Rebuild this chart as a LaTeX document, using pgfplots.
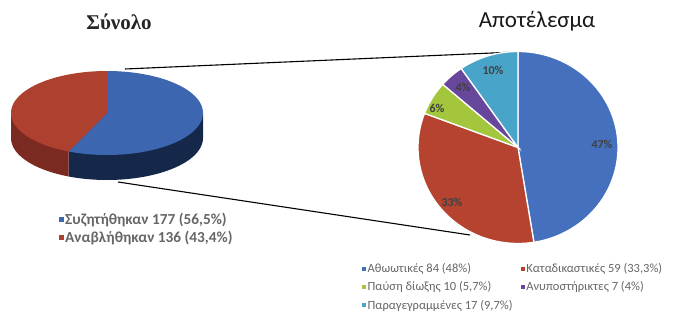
\documentclass[border=0pt]{standalone}
\usepackage{pgfplots}
\pgfplotsset{compat=1.18}
\usepackage{fontspec}
\setmainfont{Carlito}
\newfontfamily\titleserif{Liberation Serif}
\definecolor{cblue}{HTML}{3D66B0}
\definecolor{cbluer}{HTML}{4470BE}
\definecolor{cbluedark}{HTML}{16284A}
\definecolor{cred}{HTML}{AE402F}
\definecolor{cred2}{HTML}{B5432F}
\definecolor{creddark}{HTML}{7A2A20}
\definecolor{cgreen}{HTML}{A3C63C}
\definecolor{cpurple}{HTML}{66479B}
\definecolor{ccyan}{HTML}{48A4C8}
% data (counts)
\def\nA{177}\def\nB{136}
\def\vA{84}\def\vB{59}\def\vC{10}\def\vD{7}\def\vE{17}
\pgfmathsetmacro\LT{\nA+\nB}
\pgfmathsetmacro\Lcut{90-360*(\nA/\LT)}
\pgfmathsetmacro\Lcutb{\Lcut+360}
\pgfmathsetmacro\Lx{107+96*cos(\Lcut)}
\pgfmathsetmacro\Ly{206+42*sin(\Lcut)}
\pgfmathsetmacro\RT{\vA+\vB+\vC+\vD+\vE}
\pgfmathsetmacro\Ra{90-360*(\vA/\RT)}
\pgfmathsetmacro\Rb{\Ra-360*(\vB/\RT)}
\pgfmathsetmacro\Rc{\Rb-360*(\vC/\RT)}
\pgfmathsetmacro\Rd{\Rc-360*(\vD/\RT)}
\pgfmathsetmacro\Re{\Rd-360*(\vE/\RT)}
\pgfplotsset{base/.style={at={(0,0)}, anchor=south west, width=675pt, height=319pt,
  scale only axis, xmin=0, xmax=675, ymin=0, ymax=319, hide axis, clip=false},
  sq/.style={legend image code/.code={\fill[##1,draw=none] (0pt,-2.5pt) rectangle (5pt,2.5pt);}},
  sqs/.style={legend image code/.code={\fill[##1,draw=none] (0pt,-2pt) rectangle (4pt,2pt);}}}
\begin{document}
\begin{tikzpicture}
\useasboundingbox (0,0) rectangle (675pt,319pt);
% ---------- left 3D pie ----------
\begin{axis}[base, sq,
  title={\titleserif\bfseries\fontsize{21}{23}\selectfont Σύνολο},
  title style={at={(119/675,291/319)}, anchor=center, inner sep=0pt, text=black!85},
  legend style={at={(59/675,107/319)}, anchor=north west, draw=none, fill=none,
    font=\bfseries\fontsize{15.3}{17}\selectfont, text=black!60, row sep=3pt,
    inner sep=0pt, nodes={inner sep=1pt}},
  legend cell align=left]
\addplot[fill=cbluedark, draw=none, domain=\Lcut:0, samples=60, variable=\t, forget plot]
  ({107+96*cos(\t)},{181+42*sin(\t)}) -- (axis cs:203,206) -- (axis cs:107,206) -- (axis cs:\Lx,\Ly) -- cycle;
\addplot[fill=creddark, draw=none, domain=180:\Lcutb, samples=60, variable=\t, forget plot]
  ({107+96*cos(\t)},{181+42*sin(\t)}) -- (axis cs:\Lx,\Ly) -- (axis cs:107,206) -- (axis cs:11,206) -- cycle;
\addplot[fill=cblue, draw=none, domain=\Lcut:90, samples=80, variable=\t]
  ({107+96*cos(\t)},{206+42*sin(\t)}) -- (axis cs:107,206) -- cycle;
\addlegendentry{Συζητήθηκαν 177 (56,5\%)}
\addplot[fill=cred, draw=none, domain=90:\Lcutb, samples=80, variable=\t]
  ({107+96*cos(\t)},{206+42*sin(\t)}) -- (axis cs:107,206) -- cycle;
\addlegendentry{Αναβλήθηκαν 136 (43,4\%)}
% connector lines
\addplot[black, line width=1.1pt, forget plot] coordinates {(125,250) (515,267)};
\addplot[black, line width=1.1pt, forget plot] coordinates {(118,137) (470,84)};
\end{axis}
% ---------- right pie ----------
\begin{axis}[base, sqs,
  title={\fontsize{23}{25}\selectfont Αποτέλεσμα},
  title style={at={(537/675,292/319)}, anchor=center, inner sep=0pt, text=black!90},
  legend columns=2,
  legend style={at={(362/675,57/319)}, anchor=north west, draw=none, fill=none,
    font=\fontsize{12.5}{14.5}\selectfont, text=black!60, row sep=4.5pt,
    inner sep=0pt, nodes={inner sep=1.5pt},
    /tikz/column 2/.style={column sep=28pt}},
  legend cell align=left]
\addplot[fill=cbluer, draw=white, line width=1.3pt, domain=\Ra:90, samples=80, variable=\t]
  ({518+100*cos(\t)},{171.5+96*sin(\t)}) -- (axis cs:518,171.5) -- cycle;
\addlegendentry{Αθωωτικές 84 (48\%)}
\addplot[fill=cred2, draw=white, line width=1.3pt, domain=\Rb:\Ra, samples=60, variable=\t]
  ({518+100*cos(\t)},{171.5+96*sin(\t)}) -- (axis cs:518,171.5) -- cycle;
\addlegendentry{Καταδικαστικές 59 (33,3\%)}
\addplot[fill=cgreen, draw=white, line width=1.3pt, domain=\Rc:\Rb, samples=20, variable=\t]
  ({518+100*cos(\t)},{171.5+96*sin(\t)}) -- (axis cs:518,171.5) -- cycle;
\addlegendentry{Παύση δίωξης 10 (5,7\%)}
\addplot[fill=cpurple, draw=white, line width=1.3pt, domain=\Rd:\Rc, samples=20, variable=\t]
  ({518+100*cos(\t)},{171.5+96*sin(\t)}) -- (axis cs:518,171.5) -- cycle;
\addlegendentry{Ανυποστήρικτες 7 (4\%)}
\addplot[fill=ccyan, draw=white, line width=1.3pt, domain=\Re:\Rd, samples=30, variable=\t]
  ({518+100*cos(\t)},{171.5+96*sin(\t)}) -- (axis cs:518,171.5) -- cycle;
\addlegendentry{\rlap{Παραγεγραμμένες 17 (9,7\%)}}
\addplot[draw=none, forget plot, nodes near coords, point meta=explicit symbolic,
  every node near coord/.append style={anchor=center, font=\bfseries\fontsize{12}{14}\selectfont, text=black!75}]
  coordinates {(602,175) [47\%] (452,117) [33\%] (437,211) [6\%] (463,232) [4\%] (493,249) [10\%]};
\end{axis}
\end{tikzpicture}
\end{document}
